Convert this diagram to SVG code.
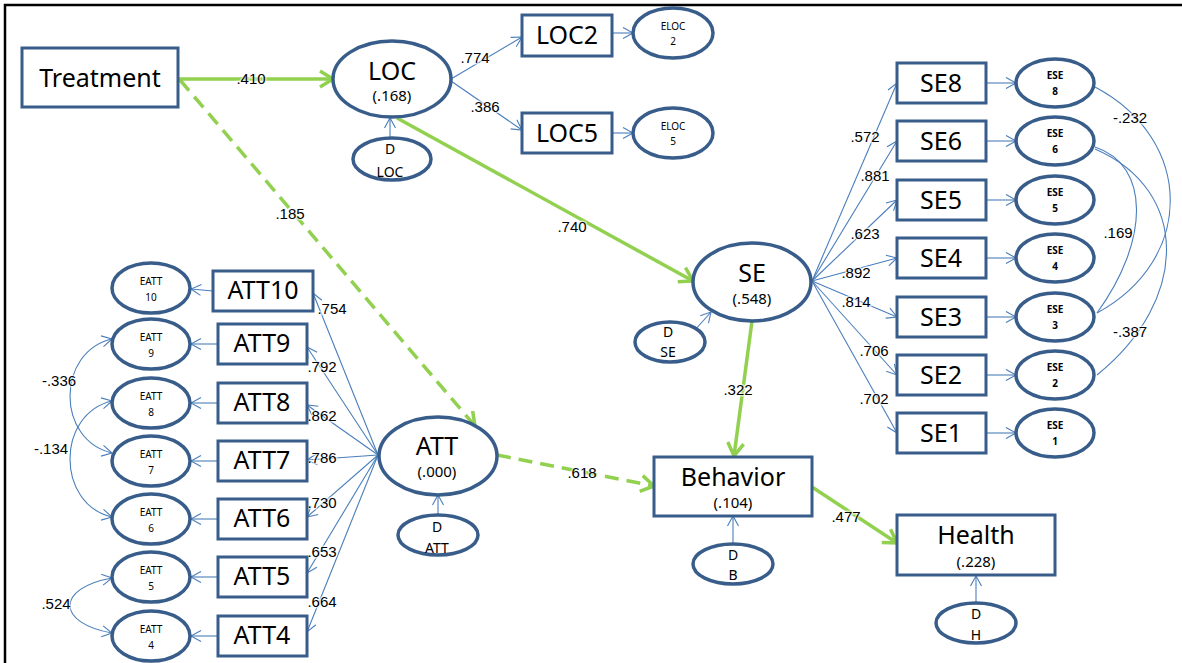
<svg xmlns="http://www.w3.org/2000/svg" width="1182" height="663" viewBox="0 0 1182 663">
  <style>
    .box{fill:#fff;stroke:#385D8A;stroke-width:3}
    .ell{fill:#fff;stroke:#385D8A;stroke-width:3.5}
    .t{font-family:"Noto Sans","Liberation Sans",sans-serif;text-anchor:middle;fill:#000}
    .big{font-size:25px}
    .r2{font-size:15px}
    .dl{font-size:14px}
    .sm{font-size:10px}
    .smb{font-size:10px;font-weight:bold}
    .num{font-family:"Liberation Sans",Arial,sans-serif;font-size:15px;text-anchor:middle;fill:#000;stroke:#fff;stroke-width:3;stroke-opacity:.6;paint-order:stroke}
    .g{stroke:#92D050;stroke-width:3.5;fill:none}
    .gd{stroke-dasharray:14 8}
    .b{stroke:#4A7EBB;stroke-width:1.1;fill:none}
  </style>
  <defs>
    <marker id="ag" markerUnits="userSpaceOnUse" markerWidth="20" markerHeight="22" refX="16" refY="11" orient="auto">
      <path d="M3,3 L16,11 L3,19" fill="none" stroke="#92D050" stroke-width="3.5"/>
    </marker>
    <marker id="ab" markerUnits="userSpaceOnUse" markerWidth="14" markerHeight="14" refX="11" refY="7" orient="auto-start-reverse">
      <path d="M1,1.5 L11,7 L1,12.5" fill="none" stroke="#4A7EBB" stroke-width="1.1"/>
    </marker>
  </defs>
  <rect width="1182" height="663" fill="#fff"/>
  <!-- frame -->
  <path d="M5,663 V5 H1182" fill="none" stroke="#000" stroke-width="2.5"/>

  <g id="connectors">
    <!-- structural paths -->
    <line class="g" x1="178" y1="79" x2="333" y2="79" marker-end="url(#ag)"/>
    <line class="g gd" x1="180" y1="80" x2="475" y2="426" marker-end="url(#ag)"/>
    <line class="g" x1="397" y1="118" x2="693" y2="281" marker-end="url(#ag)"/>
    <line class="g" x1="752" y1="321" x2="734" y2="456" marker-end="url(#ag)"/>
    <line class="g gd" x1="497" y1="455" x2="654" y2="486" marker-end="url(#ag)"/>
    <line class="g" x1="812" y1="487" x2="897" y2="543" marker-end="url(#ag)"/>

    <!-- disturbances -->
    <line class="b" x1="390" y1="138" x2="390" y2="118" marker-end="url(#ab)"/>
    <line class="b" x1="695" y1="330" x2="711" y2="312" marker-end="url(#ab)"/>
    <line class="b" x1="438" y1="515" x2="438" y2="495" marker-end="url(#ab)"/>
    <line class="b" x1="733" y1="544" x2="733" y2="516" marker-end="url(#ab)"/>
    <line class="b" x1="976" y1="603" x2="976" y2="576" marker-end="url(#ab)"/>

    <!-- LOC measurement -->
    <line class="b" x1="451" y1="79" x2="522" y2="37" marker-end="url(#ab)"/>
    <line class="b" x1="451" y1="81" x2="522" y2="130" marker-end="url(#ab)"/>
    <line class="b" x1="612" y1="33" x2="633" y2="33" marker-end="url(#ab)"/>
    <line class="b" x1="612" y1="133" x2="633" y2="133" marker-end="url(#ab)"/>

    <!-- SE measurement -->
    <g class="b" marker-end="url(#ab)">
      <line x1="812" y1="281" x2="897" y2="83"/>
      <line x1="812" y1="281" x2="897" y2="141"/>
      <line x1="812" y1="281" x2="897" y2="200"/>
      <line x1="812" y1="281" x2="897" y2="258"/>
      <line x1="812" y1="281" x2="897" y2="317"/>
      <line x1="812" y1="281" x2="897" y2="375"/>
      <line x1="812" y1="281" x2="897" y2="433"/>
      <line x1="986" y1="83" x2="1016" y2="83"/>
      <line x1="986" y1="141" x2="1016" y2="141"/>
      <line x1="986" y1="200" x2="1016" y2="200"/>
      <line x1="986" y1="258" x2="1016" y2="258"/>
      <line x1="986" y1="317" x2="1016" y2="317"/>
      <line x1="986" y1="375" x2="1016" y2="375"/>
      <line x1="986" y1="433" x2="1016" y2="433"/>
    </g>
    <!-- SE error covariances -->
    <path class="b" d="M1095,87 C1195,140 1195,260 1097,313"/>
    <path class="b" d="M1095,147 C1150,165 1150,240 1097,313"/>
    <path class="b" d="M1095,149 C1190,190 1190,300 1097,375"/>

    <!-- ATT measurement -->
    <g class="b" marker-end="url(#ab)">
      <line x1="378" y1="455" x2="313" y2="293"/>
      <line x1="378" y1="455" x2="307" y2="347"/>
      <line x1="378" y1="455" x2="307" y2="405"/>
      <line x1="378" y1="455" x2="307" y2="460"/>
      <line x1="378" y1="455" x2="307" y2="517"/>
      <line x1="378" y1="455" x2="307" y2="573"/>
      <line x1="378" y1="455" x2="307" y2="632"/>
      <line x1="213" y1="291" x2="191" y2="289"/>
      <line x1="218" y1="344" x2="191" y2="344"/>
      <line x1="218" y1="403" x2="191" y2="403"/>
      <line x1="218" y1="461" x2="191" y2="461"/>
      <line x1="218" y1="519" x2="191" y2="519"/>
      <line x1="218" y1="577" x2="191" y2="577"/>
      <line x1="218" y1="636" x2="191" y2="636"/>
    </g>
    <!-- ATT error covariances -->
    <g class="b" marker-start="url(#ab)" marker-end="url(#ab)">
      <path d="M112,339 C56,352 56,440 112,453"/>
      <path d="M112,401 C56,414 56,504 112,517"/>
      <path d="M112,578 C56,588 56,623 112,633"/>
    </g>

    <!-- coefficients -->
    <g class="num">
      <text x="251" y="84">.410</text>
      <text x="290" y="219">.185</text>
      <text x="572" y="232">.740</text>
      <text x="738" y="395">.322</text>
      <text x="582" y="478">.618</text>
      <text x="846" y="522">.477</text>
      <text x="475" y="63">.774</text>
      <text x="485" y="112">.386</text>
      <text x="865" y="142">.572</text>
      <text x="875" y="181">.881</text>
      <text x="865" y="239">.623</text>
      <text x="856" y="278">.892</text>
      <text x="856" y="307">.814</text>
      <text x="874" y="356">.706</text>
      <text x="874" y="404">.702</text>
      <text x="1130" y="123">-.232</text>
      <text x="1118" y="238">.169</text>
      <text x="1130" y="337">-.387</text>
      <text x="332" y="314">.754</text>
      <text x="322" y="372">.792</text>
      <text x="322" y="421">.862</text>
      <text x="322" y="463">.786</text>
      <text x="322" y="508">.730</text>
      <text x="322" y="557">.653</text>
      <text x="322" y="607">.664</text>
      <text x="59" y="386">-.336</text>
      <text x="51" y="454">-.134</text>
      <text x="56" y="609">.524</text>
    </g>
  </g>

  <!-- structural nodes -->
  <g id="treatment">
    <rect class="box" x="22" y="48" width="156" height="59"/>
    <text class="t big" x="100" y="87">Treatment</text>
  </g>
  <g id="loc">
    <ellipse class="ell" cx="392" cy="79" rx="59" ry="38"/>
    <text class="t big" x="392" y="80">LOC</text>
    <text class="t r2" x="392" y="101">(.168)</text>
  </g>
  <g id="d-loc">
    <ellipse class="ell" cx="392" cy="159" rx="39" ry="21"/>
    <text class="t dl" x="390" y="154">D</text>
    <text class="t dl" x="390" y="177">LOC</text>
  </g>
  <g id="se">
    <ellipse class="ell" cx="752" cy="282" rx="59" ry="39"/>
    <text class="t big" x="752" y="282">SE</text>
    <text class="t r2" x="752" y="304">(.548)</text>
  </g>
  <g id="d-se">
    <ellipse class="ell" cx="670" cy="342" rx="35" ry="20"/>
    <text class="t dl" x="668" y="337">D</text>
    <text class="t dl" x="668" y="357">SE</text>
  </g>
  <g id="att">
    <ellipse class="ell" cx="438" cy="456" rx="59" ry="39"/>
    <text class="t big" x="437" y="455">ATT</text>
    <text class="t r2" x="437" y="477">(.000)</text>
  </g>
  <g id="d-att">
    <ellipse class="ell" cx="438" cy="535" rx="40" ry="20"/>
    <text class="t dl" x="437" y="532">D</text>
    <text class="t dl" x="437" y="553">ATT</text>
  </g>
  <g id="behavior">
    <rect class="box" x="654" y="457" width="158" height="59"/>
    <text class="t big" x="733" y="486">Behavior</text>
    <text class="t r2" x="733" y="508">(.104)</text>
  </g>
  <g id="d-b">
    <ellipse class="ell" cx="733" cy="564" rx="40" ry="20"/>
    <text class="t dl" x="733" y="560">D</text>
    <text class="t dl" x="733" y="580">B</text>
  </g>
  <g id="health">
    <rect class="box" x="897" y="515" width="158" height="60"/>
    <text class="t big" x="976" y="544">Health</text>
    <text class="t r2" x="976" y="567">(.228)</text>
  </g>
  <g id="d-h">
    <ellipse class="ell" cx="976" cy="623" rx="40" ry="20"/>
    <text class="t dl" x="976" y="619">D</text>
    <text class="t dl" x="976" y="640">H</text>
  </g>

  <!-- LOC indicators -->
  <g id="loc2">
    <rect class="box" x="522" y="15" width="90" height="41"/>
    <text class="t big" x="567" y="44">LOC2</text>
  </g>
  <g id="loc5">
    <rect class="box" x="522" y="113" width="90" height="40"/>
    <text class="t big" x="567" y="142">LOC5</text>
  </g>
  <g id="eloc2">
    <ellipse class="ell" cx="673" cy="33" rx="40" ry="25"/>
    <text class="t sm" x="673" y="30">ELOC</text>
    <text class="t sm" x="673" y="45">2</text>
  </g>
  <g id="eloc5">
    <ellipse class="ell" cx="673" cy="133" rx="40" ry="25"/>
    <text class="t sm" x="673" y="130">ELOC</text>
    <text class="t sm" x="673" y="145">5</text>
  </g>

  <!-- SE indicators -->
  <g id="se8"><rect class="box" x="897" y="63" width="89" height="40"/><text class="t big" x="941" y="92">SE8</text></g>
  <g id="se6"><rect class="box" x="897" y="121" width="89" height="40"/><text class="t big" x="941" y="150">SE6</text></g>
  <g id="se5"><rect class="box" x="897" y="180" width="89" height="40"/><text class="t big" x="941" y="209">SE5</text></g>
  <g id="se4"><rect class="box" x="897" y="238" width="89" height="40"/><text class="t big" x="941" y="267">SE4</text></g>
  <g id="se3"><rect class="box" x="897" y="297" width="89" height="40"/><text class="t big" x="941" y="326">SE3</text></g>
  <g id="se2"><rect class="box" x="897" y="355" width="89" height="40"/><text class="t big" x="941" y="384">SE2</text></g>
  <g id="se1"><rect class="box" x="897" y="413" width="89" height="40"/><text class="t big" x="941" y="442">SE1</text></g>

  <g id="ese8"><ellipse class="ell" cx="1055" cy="83" rx="39" ry="24"/><text class="t smb" x="1055" y="79">ESE</text><text class="t smb" x="1055" y="95">8</text></g>
  <g id="ese6"><ellipse class="ell" cx="1055" cy="141" rx="39" ry="24"/><text class="t smb" x="1055" y="137">ESE</text><text class="t smb" x="1055" y="153">6</text></g>
  <g id="ese5"><ellipse class="ell" cx="1055" cy="200" rx="39" ry="24"/><text class="t smb" x="1055" y="196">ESE</text><text class="t smb" x="1055" y="212">5</text></g>
  <g id="ese4"><ellipse class="ell" cx="1055" cy="258" rx="39" ry="24"/><text class="t smb" x="1055" y="254">ESE</text><text class="t smb" x="1055" y="270">4</text></g>
  <g id="ese3"><ellipse class="ell" cx="1055" cy="317" rx="39" ry="24"/><text class="t smb" x="1055" y="313">ESE</text><text class="t smb" x="1055" y="329">3</text></g>
  <g id="ese2"><ellipse class="ell" cx="1055" cy="375" rx="39" ry="24"/><text class="t smb" x="1055" y="371">ESE</text><text class="t smb" x="1055" y="387">2</text></g>
  <g id="ese1"><ellipse class="ell" cx="1055" cy="433" rx="39" ry="24"/><text class="t smb" x="1055" y="429">ESE</text><text class="t smb" x="1055" y="445">1</text></g>

  <!-- ATT indicators -->
  <g id="att10"><rect class="box" x="213" y="271" width="100" height="40"/><text class="t big" x="263" y="299">ATT10</text></g>
  <g id="att9"><rect class="box" x="218" y="324" width="89" height="40"/><text class="t big" x="262" y="352">ATT9</text></g>
  <g id="att8"><rect class="box" x="218" y="383" width="89" height="40"/><text class="t big" x="262" y="411">ATT8</text></g>
  <g id="att7"><rect class="box" x="218" y="441" width="89" height="40"/><text class="t big" x="262" y="469">ATT7</text></g>
  <g id="att6"><rect class="box" x="218" y="499" width="89" height="40"/><text class="t big" x="262" y="527">ATT6</text></g>
  <g id="att5"><rect class="box" x="218" y="557" width="89" height="40"/><text class="t big" x="262" y="585">ATT5</text></g>
  <g id="att4"><rect class="box" x="218" y="616" width="89" height="40"/><text class="t big" x="262" y="644">ATT4</text></g>

  <g id="eatt10"><ellipse class="ell" cx="151" cy="288" rx="39" ry="25"/><text class="t sm" x="151" y="285">EATT</text><text class="t sm" x="151" y="301">10</text></g>
  <g id="eatt9"><ellipse class="ell" cx="151" cy="344" rx="39" ry="25"/><text class="t sm" x="151" y="341">EATT</text><text class="t sm" x="151" y="357">9</text></g>
  <g id="eatt8"><ellipse class="ell" cx="151" cy="403" rx="39" ry="25"/><text class="t sm" x="151" y="400">EATT</text><text class="t sm" x="151" y="416">8</text></g>
  <g id="eatt7"><ellipse class="ell" cx="151" cy="461" rx="39" ry="25"/><text class="t sm" x="151" y="458">EATT</text><text class="t sm" x="151" y="474">7</text></g>
  <g id="eatt6"><ellipse class="ell" cx="151" cy="519" rx="39" ry="25"/><text class="t sm" x="151" y="516">EATT</text><text class="t sm" x="151" y="532">6</text></g>
  <g id="eatt5"><ellipse class="ell" cx="151" cy="577" rx="39" ry="25"/><text class="t sm" x="151" y="574">EATT</text><text class="t sm" x="151" y="590">5</text></g>
  <g id="eatt4"><ellipse class="ell" cx="151" cy="636" rx="39" ry="25"/><text class="t sm" x="151" y="633">EATT</text><text class="t sm" x="151" y="649">4</text></g>
</svg>
